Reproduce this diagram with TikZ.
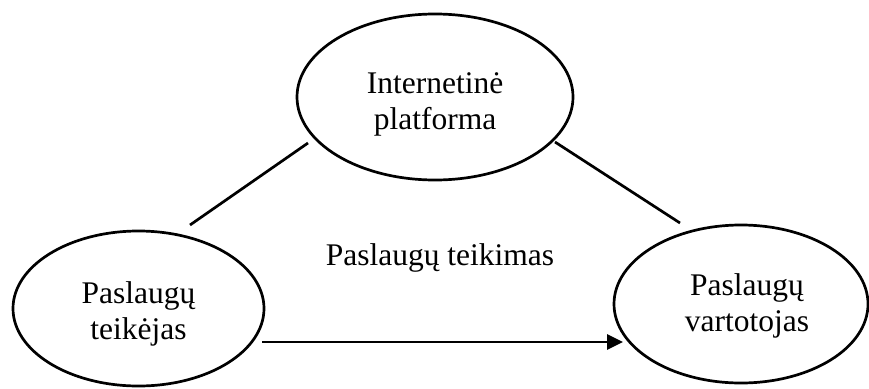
\documentclass[tikz,border=0pt]{standalone}
\usepackage{fontspec}
\setmainfont{Liberation Serif}
\usetikzlibrary{shapes.geometric,arrows.meta}
\begin{document}
\begin{tikzpicture}[x=1pt,y=-1pt,
  oval/.style={draw, ellipse, line width=2.7pt, inner sep=0pt},
  lbl/.style={font=\fontsize{31.5}{36}\selectfont, align=center, inner sep=0pt},
  link/.style={line width=2.7pt},
  flow/.style={line width=2.7pt, -{Triangle[length=16pt,width=15pt]}}]
\useasboundingbox (0,0) rectangle (869,388);
% ellipses
\node[oval, minimum width=276pt, minimum height=166pt] (plat) at (435,97) {};
\node[oval, minimum width=251pt, minimum height=155pt] (teik) at (138.5,308.5) {};
\node[oval, minimum width=254pt, minimum height=158pt] (vart) at (741,304) {};
% texts
\node[lbl] (platT) at (435,104) {Internetinė\\platforma};
\node[lbl] (teikT) at (138.5,314) {Paslaugų\\teikėjas};
\node[lbl] (vartT) at (747,305.5) {Paslaugų\\vartotojas};
\node[lbl, anchor=base] (mid) at (440,265) {Paslaugų teikimas};
% connectors
\coordinate (la) at (308,143);
\coordinate (lb) at (190,225);
\coordinate (ra) at (555,142);
\coordinate (rb) at (680,223);
\coordinate (as) at (262,342);
\coordinate (ae) at (623,342);
\draw[link] (la) -- (lb);
\draw[link] (ra) -- (rb);
\draw[flow] (as) -- (ae);
\end{tikzpicture}
\end{document}
